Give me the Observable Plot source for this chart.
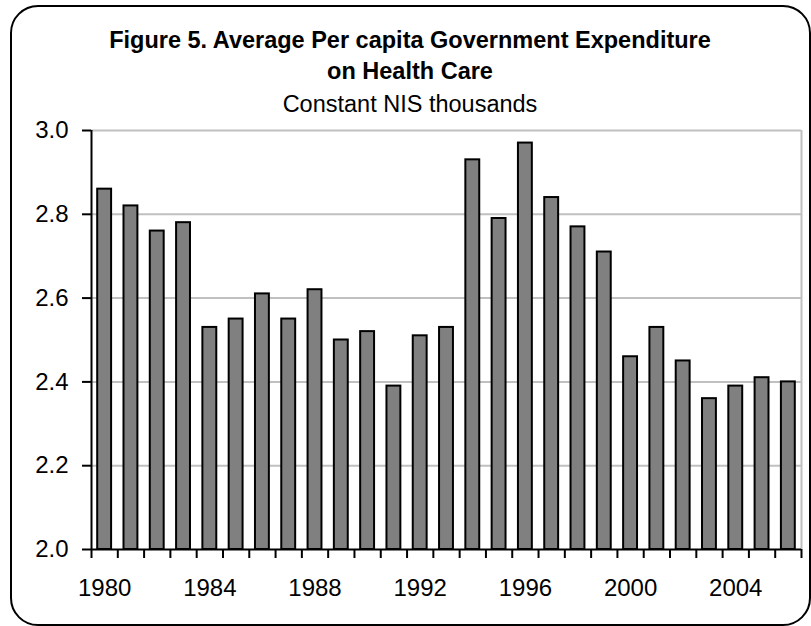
<!DOCTYPE html>
<html>
<head>
<meta charset="utf-8">
<script src="https://cdn.jsdelivr.net/npm/d3@7"></script>
<script src="https://cdn.jsdelivr.net/npm/@observablehq/plot@0.6"></script>
<style>
  html, body { margin: 0; padding: 0; background: #fff; }
  #chart {
    position: relative; width: 811px; height: 626px; overflow: hidden;
    font-family: "Liberation Sans", Arial, sans-serif; color: #000;
  }
  #chart svg { position: absolute; left: 0; top: 0; background: transparent; }
  .frame {
    position: absolute; left: 10px; top: 5px; width: 801px; height: 621px;
    box-sizing: border-box; border: 2.5px solid #000; border-radius: 28px;
    pointer-events: none;
  }
  .title {
    position: absolute; left: 0; width: 820px; top: 25px;
    text-align: center; line-height: 31px; font-size: 23.5px;
  }
  .title .main { font-weight: bold; }
  .title .sub { margin-top: 1.5px; }
</style>
</head>
<body>
<div id="chart"></div>
<script>
// Average per capita government expenditure on health care, constant NIS thousands
const years = [1980, 1981, 1982, 1983, 1984, 1985, 1986, 1987, 1988, 1989,
               1990, 1991, 1992, 1993, 1994, 1995, 1996, 1997, 1998, 1999,
               2000, 2001, 2002, 2003, 2004, 2005, 2006];
const expenditure = [2.86, 2.82, 2.76, 2.78, 2.53, 2.55, 2.61, 2.55, 2.62, 2.50,
                     2.52, 2.39, 2.51, 2.53, 2.93, 2.79, 2.97, 2.84, 2.77, 2.71,
                     2.46, 2.53, 2.45, 2.36, 2.39, 2.41, 2.40];
const yTicks = [2.0, 2.2, 2.4, 2.6, 2.8, 3.0];
const yearLabels = [1980, 1984, 1988, 1992, 1996, 2000, 2004];

const titleLines = ["Figure 5. Average Per capita Government Expenditure", "on Health Care"];
const subtitle = "Constant NIS thousands";

const data = years.map((year, i) => ({year, value: expenditure[i]}));
// category boundaries: one tick between each pair of years, plus both ends
const boundaries = [...years, years[years.length - 1] + 1];
const first = years[0], last = years[years.length - 1] + 1;

const chart = Plot.plot({
  width: 811,
  height: 626,
  marginLeft: 91,
  marginRight: 10,
  marginTop: 130,
  marginBottom: 77,
  style: {fontFamily: '"Liberation Sans", Arial, sans-serif', background: "transparent", color: "#000"},
  x: {type: "linear", domain: [first, last]},
  y: {domain: [2, 3]},
  marks: [
    Plot.ruleY(yTicks.slice(1), {stroke: "#c0c0c0", strokeWidth: 2}),
    Plot.ruleX([last], {stroke: "#c0c0c0", strokeWidth: 2}),
    Plot.rect(data, {
      x1: "year", x2: d => d.year + 1, y1: 2, y2: "value",
      fill: "#808080", stroke: "#000", strokeWidth: 2,
      insetLeft: 6.2, insetRight: 6.2
    }),
    Plot.ruleX([first], {stroke: "#000", strokeWidth: 2}),
    Plot.ruleY([2], {stroke: "#000", strokeWidth: 2}),
    Plot.axisY({
      ticks: yTicks, tickFormat: d => d.toFixed(1), tickSize: 9, tickPadding: 14,
      fontSize: 24, stroke: "#000", strokeWidth: 2, strokeOpacity: 1, label: null
    }),
    Plot.axisX({
      ticks: boundaries, tickFormat: () => "", tickSize: 9,
      stroke: "#000", strokeWidth: 2, strokeOpacity: 1, label: null
    }),
    Plot.axisX({
      ticks: yearLabels.map(y => y + 0.5), tickFormat: d => String(d - 0.5),
      tickSize: 0, tickPadding: 29, fontSize: 24, label: null
    })
  ]
});

const root = document.getElementById("chart");
root.appendChild(chart);

const title = document.createElement("div");
title.className = "title";
for (const line of titleLines) {
  const el = document.createElement("div");
  el.className = "main";
  el.textContent = line;
  title.appendChild(el);
}
const sub = document.createElement("div");
sub.className = "sub";
sub.textContent = subtitle;
title.appendChild(sub);
root.appendChild(title);

const frame = document.createElement("div");
frame.className = "frame";
root.appendChild(frame);
</script>
</body>
</html>
